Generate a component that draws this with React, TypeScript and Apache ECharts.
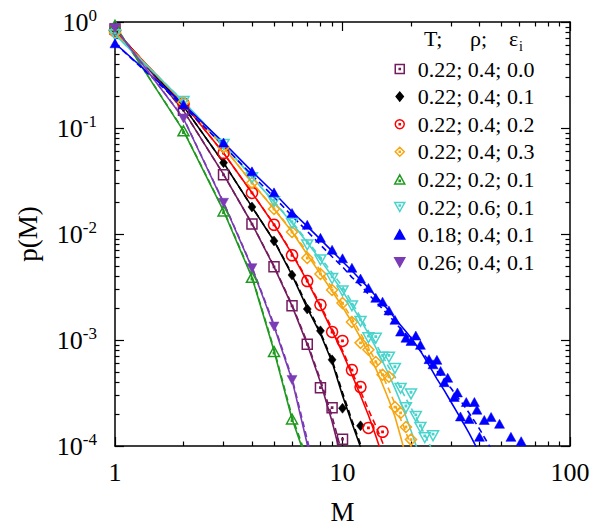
import React, { useEffect, useRef } from "react";
import * as echarts from "echarts";

const FONT = "Liberation Serif";

// ---- tick values / labels ----
const xMajor = [1, 10, 100];
const xMinor = [2, 3, 4, 5, 6, 7, 8, 9, 20, 30, 40, 50, 60, 70, 80, 90];
const xLabels = ["1", "10", "100"];
const yMajor = [0.0001, 0.001, 0.01, 0.1, 1];
const yMinor = [
  0.0002, 0.0003, 0.0004, 0.0005, 0.0006, 0.0007, 0.0008, 0.0009,
  0.002, 0.003, 0.004, 0.005, 0.006, 0.007, 0.008, 0.009,
  0.02, 0.03, 0.04, 0.05, 0.06, 0.07, 0.08, 0.09,
  0.2, 0.3, 0.4, 0.5, 0.6, 0.7, 0.8, 0.9,
];
const yExp = ["-4", "-3", "-2", "-1", "0"];

// ---- legend names ----
const names = [
  "0.22; 0.4; 0.0",
  "0.22; 0.4; 0.1",
  "0.22; 0.4; 0.2",
  "0.22; 0.4; 0.3",
  "0.22; 0.2; 0.1",
  "0.22; 0.6; 0.1",
  "0.18; 0.4; 0.1",
  "0.26; 0.4; 0.1",
];

// ---- data: p(M) for M = 1, 2, 3, ... (null = not shown) ----
const sqPts = [0.86, 0.147, 0.0362, 0.0124, 0.0049, 0.0021, 0.00091, 0.000355, 0.00023, 0.000116];
const sqFit = [0.86, 0.146, 0.0365, 0.0125, 0.0049, 0.0021, 0.00091, 0.0004, 0.00017, 0.00007];
const sqFit2 = [0.86, 0.146, 0.0365, 0.0125, 0.005, 0.00215, 0.00095, 0.00042, 0.00019, 0.000082, 0.000035];

const bkPts = [0.84, 0.16, 0.047, 0.018, 0.0086, 0.0041, 0.00196, 0.00122, 0.00065, 0.000227, null, 0.000155];
const bkFit = [0.84, 0.16, 0.047, 0.018, 0.0086, 0.0041, 0.002, 0.00114, 0.00062, 0.0003, 0.000165, 0.000098, 0.000055];
const bkFit2 = [0.84, 0.16, 0.047, 0.018, 0.0087, 0.0042, 0.0021, 0.00118, 0.00065, 0.00032, 0.000175, 0.000104, 0.00006];

const rdPts = [0.82, 0.17, 0.058, 0.0244, 0.0122, 0.0063, 0.0036, 0.00214, 0.00119, 0.00098, 0.00052, 0.00036, 0.000148, null, 0.000136];
const rdFit = [0.82, 0.17, 0.058, 0.0245, 0.0123, 0.0065, 0.0036, 0.00205, 0.00122, 0.00076, 0.00047, 0.0003, 0.000195, 0.000125, 0.00008, 0.00005];
const rdFit2 = [0.82, 0.17, 0.058, 0.0245, 0.0124, 0.0066, 0.0037, 0.00213, 0.00128, 0.0008, 0.0005, 0.00033, 0.00022, 0.000155, 0.000108, 0.00007];

const orPts = [0.79, 0.175, 0.066, 0.0303, 0.0172, 0.01045, 0.00594, 0.0042, 0.00296, 0.00223, 0.00148, 0.00094, 0.00081, 0.00062, 0.00047, 0.00045, 0.000233, 0.000205, 0.000151, 0.000115];
const orFit = [0.79, 0.175, 0.066, 0.0305, 0.0172, 0.0105, 0.0064, 0.0042, 0.0029, 0.00205, 0.00147, 0.00105, 0.00075, 0.00054, 0.00038, 0.00027, 0.00019, 0.000123, 0.00008, 0.000053];
const orFit2 = [0.79, 0.175, 0.066, 0.0305, 0.0174, 0.0107, 0.0067, 0.0045, 0.0031, 0.0022, 0.0016, 0.00116, 0.00085, 0.00063, 0.00046, 0.00034, 0.00025, 0.00018, 0.000135, 0.0001, 0.000072];

const grPts = [0.93, 0.094, 0.0165, 0.0039, 0.00078, 0.00018];
const grFit = [0.93, 0.094, 0.0165, 0.0039, 0.00079, 0.00018, 0.00007];
const grFit2 = [0.93, 0.095, 0.0168, 0.004, 0.00082, 0.00019, 0.000075];

const cyPts = [0.76, 0.178, 0.07, 0.034, 0.0202, 0.0126, 0.0079, 0.0057, 0.0038, 0.0029, 0.0021, 0.0015, 0.00105, 0.00104, 0.00069, 0.00069, 0.00054, 0.00035, 0.00023, 0.00031, 0.00019, 0.00015, 0.00012, null, 0.000125];
const cyFit = [0.76, 0.178, 0.07, 0.0345, 0.02, 0.0127, 0.0083, 0.0057, 0.004, 0.0029, 0.0021, 0.00155, 0.00115, 0.00085, 0.00063, 0.00047, 0.00035, 0.00026, 0.00019, 0.00014, 0.000103, 0.000075];
const cyFit2 = [0.76, 0.178, 0.07, 0.0345, 0.0202, 0.013, 0.0086, 0.006, 0.0043, 0.0032, 0.00226, 0.00164, 0.00121, 0.00092, 0.00071, 0.00055, 0.00045, 0.00035, 0.00028, 0.00023, 0.000188, 0.000155, 0.000128, 0.000106, 0.000088];

const puPts = [0.88, 0.123, 0.0197, 0.00476, 0.00134, 0.00042];
const puFit = [0.88, 0.123, 0.0197, 0.0048, 0.00135, 0.00042, 0.000104, 0.00003];
const puFit2 = [0.88, 0.124, 0.02, 0.0049, 0.0014, 0.00044, 0.000115, 0.000035];

// blue series: irregular M values
const blM = [1, 2, 3, 4, 5, 6, 7, 8, 9, 10, 11, 12, 13, 14, 15, 16, 17, 18, 19, 20, 21, 22, 24, 25, 26, 27, 28, 29, 31, 32, 33, 35, 36, 38, 39, 40, 42, 45, 49, 55, 61];
const blP = [0.63, 0.167, 0.073, 0.039, 0.0247, 0.0158, 0.0122, 0.0092, 0.0071, 0.0059, 0.0048, 0.0038, 0.0031, 0.0025, 0.0023, 0.0019, 0.00155, 0.0012, 0.00105, 0.00098, 0.0011, 0.0009, 0.00066, 0.00059, 0.00065, 0.00051, 0.0004, 0.00044, 0.00029, 0.00032, 0.00019, 0.00026, 0.00018, 0.00026, 0.00022, 0.000122, 0.000176, 0.000188, 0.000162, 0.000122, 0.000111];
const blFitM = [1, 2, 3, 4, 5, 6, 7, 8, 9, 10, 11, 12, 13, 14, 15, 16, 17, 18, 19, 20, 22, 24, 26, 28, 30, 32, 34, 36, 38, 40, 42];
const blFit = [0.63, 0.167, 0.073, 0.039, 0.0245, 0.0162, 0.0118, 0.0089, 0.0069, 0.0055, 0.0045, 0.0037, 0.0031, 0.0026, 0.0022, 0.0019, 0.0016, 0.00138, 0.0012, 0.00105, 0.00079, 0.00058, 0.00043, 0.000335, 0.00026, 0.000205, 0.000164, 0.000132, 0.000106, 0.000085, 0.000068];
const blFit2M = [1, 2, 3, 4, 5, 6, 7, 8, 9, 10, 11, 12, 13, 14, 15, 16, 17, 18, 19, 20, 22, 24, 26, 28, 30, 32, 34, 36, 38, 40, 42, 44, 46];
const blFit2 = [0.63, 0.16, 0.068, 0.036, 0.0223, 0.0148, 0.0106, 0.0079, 0.0061, 0.0049, 0.0039, 0.0033, 0.0027, 0.0023, 0.00196, 0.0017, 0.00147, 0.00128, 0.00113, 0.001, 0.00079, 0.00064, 0.00051, 0.00042, 0.00035, 0.00029, 0.000245, 0.000205, 0.000172, 0.000145, 0.000121, 0.000102, 0.000086];

// ---- symbols ----
const DOT = " M4.4,4.4 L5.6,4.4 L5.6,5.6 L4.4,5.6 Z";
const SYM_SQ = "path://M0,0 L10,0 L10,10 L0,10 Z" + DOT;
const SYM_CI = "path://M5,0 A5,5 0 1,1 4.99,0 Z" + DOT;
const SYM_DI = "path://M5,0 L10,5 L5,10 L0,5 Z" + DOT;
const SYM_TU = "path://M5,0 L10,9 L0,9 Z M4.4,5.4 L5.6,5.4 L5.6,6.6 L4.4,6.6 Z";
const SYM_TD = "path://M0,0 L10,0 L5,9 Z M4.4,2.4 L5.6,2.4 L5.6,3.6 L4.4,3.6 Z";
const SYM_TDF = "path://M0,0 L10,0 L5,9 Z";
const SYM_TUF = "path://M5,0 L10,9 L0,9 Z";
const SYM_DIF = "path://M5,0 L9,5 L5,10 L1,5 Z";

function seq(arr: (number | null)[]) {
  const out: number[][] = [];
  arr.forEach((p, i) => {
    if (p != null) out.push([i + 1, p]);
  });
  return out;
}
function zip(ms: number[], ps: number[]) {
  return ms.map((m, i) => [m, ps[i]]);
}

type Group = {
  name: string;
  color: string;
  symbol: string;
  size: number;
  filled: boolean;
  pts: number[][];
  fit: number[][];
  fit2: number[][];
};

const groups: Group[] = [
  { name: names[0], color: "#741b60", symbol: SYM_SQ, size: 10, filled: false, pts: seq(sqPts), fit: seq(sqFit), fit2: seq(sqFit2) },
  { name: names[1], color: "#000000", symbol: SYM_DIF, size: 10, filled: true, pts: seq(bkPts), fit: seq(bkFit), fit2: seq(bkFit2) },
  { name: names[2], color: "#ff0000", symbol: SYM_CI, size: 11, filled: false, pts: seq(rdPts), fit: seq(rdFit), fit2: seq(rdFit2) },
  { name: names[3], color: "#f7a60f", symbol: SYM_DI, size: 11, filled: false, pts: seq(orPts), fit: seq(orFit), fit2: seq(orFit2) },
  { name: names[4], color: "#1f9a1f", symbol: SYM_TU, size: 11, filled: false, pts: seq(grPts), fit: seq(grFit), fit2: seq(grFit2) },
  { name: names[5], color: "#48d4cc", symbol: SYM_TD, size: 11, filled: false, pts: seq(cyPts), fit: seq(cyFit), fit2: seq(cyFit2) },
  { name: names[6], color: "#0000ff", symbol: SYM_TUF, size: 10, filled: true, pts: zip(blM, blP), fit: zip(blFitM, blFit), fit2: zip(blFit2M, blFit2) },
  { name: names[7], color: "#7a3bb5", symbol: SYM_TDF, size: 10, filled: true, pts: seq(puPts), fit: seq(puFit), fit2: seq(puFit2) },
];

function nearestIdx(vals: number[], v: number) {
  let best = 0;
  let bd = Infinity;
  vals.forEach((t, i) => {
    const d = Math.abs(Math.log10(t) - Math.log10(v));
    if (d < bd) {
      bd = d;
      best = i;
    }
  });
  return best;
}

const tickStyle = { color: "#000", width: 1.2 };

function xAxis(pos: "bottom" | "top", major: boolean, main: boolean) {
  return {
    type: "log",
    logBase: 10,
    min: 1,
    max: 100,
    position: pos,
    name: main ? "M" : "",
    nameLocation: "middle",
    nameGap: 52,
    nameTextStyle: { fontFamily: FONT, fontSize: 27, color: "#000" },
    axisLine: { show: major, lineStyle: { color: "#000", width: 1.5 } },
    axisTick: { show: true, inside: true, length: major ? 9 : 4.5, customValues: major ? xMajor : xMinor, lineStyle: tickStyle },
    axisLabel: {
      show: main,
      customValues: xMajor,
      margin: 13,
      fontFamily: FONT,
      fontSize: 26,
      color: "#000",
      formatter: (v: number) => xLabels[nearestIdx(xMajor, v)],
    },
    splitLine: { show: false },
    minorTick: { show: false },
    minorSplitLine: { show: false },
  };
}

function yAxis(pos: "left" | "right", major: boolean, main: boolean) {
  return {
    type: "log",
    logBase: 10,
    min: 0.0001,
    max: 1,
    position: pos,
    name: main ? "p(M)" : "",
    nameLocation: "middle",
    nameGap: 74,
    nameTextStyle: { fontFamily: FONT, fontSize: 27, color: "#000" },
    axisLine: { show: major, lineStyle: { color: "#000", width: 1.5 } },
    axisTick: { show: true, inside: true, length: major ? 9 : 4.5, customValues: major ? yMajor : yMinor, lineStyle: tickStyle },
    axisLabel: {
      show: main,
      customValues: yMajor,
      margin: 18,
      color: "#000",
      formatter: (v: number) => `{b|10}{s|${yExp[nearestIdx(yMajor, v)]}}`,
      rich: {
        b: { fontFamily: FONT, fontSize: 26, lineHeight: 30, color: "#000" },
        s: { fontFamily: FONT, fontSize: 17, lineHeight: 14, verticalAlign: "top", color: "#000" },
      },
    },
    splitLine: { show: false },
    minorTick: { show: false },
    minorSplitLine: { show: false },
  };
}

function buildOption() {
  const series: any[] = [];
  groups.forEach((g, i) => {
    series.push({
      type: "line",
      name: "fit-a-" + i,
      data: g.fit,
      showSymbol: false,
      symbol: "none",
      lineStyle: { color: g.color, width: 1.6 },
      itemStyle: { color: g.color },
      z: 2,
      silent: true,
    });
    series.push({
      type: "line",
      name: "fit-b-" + i,
      data: g.fit2,
      showSymbol: false,
      symbol: "none",
      lineStyle: { color: g.color, width: 1.6, type: [6, 4] },
      itemStyle: { color: g.color },
      z: 2,
      silent: true,
    });
  });
  groups.forEach((g) => {
    series.push({
      type: "scatter",
      name: g.name,
      data: g.pts,
      symbol: g.symbol,
      symbolSize: g.size,
      symbolKeepAspect: true,
      itemStyle: g.filled
        ? { color: g.color, borderColor: g.color, borderWidth: 0.5, opacity: 1 }
        : { color: "rgba(255,255,255,0)", borderColor: g.color, borderWidth: 1.5, opacity: 1 },
      z: 3,
      silent: true,
    });
  });

  return {
    animation: false,
    backgroundColor: "#fff",
    grid: { left: 115, right: 30, top: 22, bottom: 86, containLabel: false },
    xAxis: [xAxis("bottom", true, true), xAxis("bottom", false, false), xAxis("top", true, false), xAxis("top", false, false)],
    yAxis: [yAxis("left", true, true), yAxis("left", false, false), yAxis("right", true, false), yAxis("right", false, false)],
    legend: {
      orient: "vertical",
      left: 389,
      top: 53,
      padding: 5,
      itemGap: 5.6,
      itemWidth: 26,
      itemHeight: 9,
      selectedMode: false,
      data: names,
      itemStyle: { borderWidth: 1.5 },
      textStyle: { fontFamily: FONT, fontSize: 22, lineHeight: 22, color: "#000" },
    },
    graphic: [
      { type: "text", x: 424, y: 38, style: { text: "T;", font: "22px Liberation Serif", fill: "#000", verticalAlign: "middle" } },
      { type: "text", x: 470, y: 38, style: { text: "ρ;", font: "22px Liberation Serif", fill: "#000", verticalAlign: "middle" } },
      { type: "text", x: 509, y: 38, style: { text: "ε", font: "22px Liberation Serif", fill: "#000", verticalAlign: "middle" } },
      { type: "text", x: 519, y: 46, style: { text: "i", font: "14px Liberation Serif", fill: "#000", verticalAlign: "middle" } },
    ],
    series,
  };
}

export default function App() {
  const ref = useRef<HTMLDivElement>(null);
  useEffect(() => {
    if (!ref.current) return;
    const chart = echarts.init(ref.current, null, { renderer: "svg" });
    chart.setOption(buildOption() as any);
    return () => chart.dispose();
  }, []);
  return <div ref={ref} style={{ position: "absolute", left: 0, top: 0, width: 600, height: 532 }} />;
}
